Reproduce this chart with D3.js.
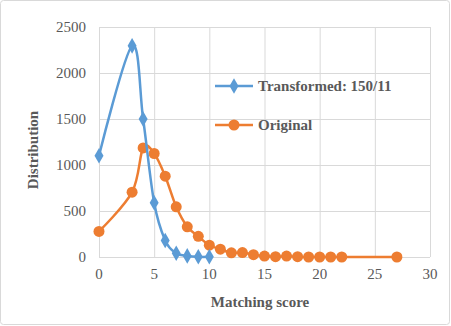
<!DOCTYPE html>
<html>
<head>
<meta charset="utf-8">
<script src="https://cdn.jsdelivr.net/npm/d3@7"></script>
<style>
  body { margin: 0; background: #fff; }
  text { font-family: "Liberation Serif", "Times New Roman", serif; }
</style>
</head>
<body>
<svg width="451" height="326"></svg>
<script>
    // values
    const transformedX = [0, 3, 4, 5, 6, 7, 8, 9, 10];
    const transformedY = [1100, 2295, 1500, 590, 180, 40, 12, 2, 2];

    const originalX = [0, 3, 4, 5, 6, 7, 8, 9, 10, 11, 12, 13, 14, 15, 16, 17, 18, 19, 20, 21, 22, 27];
    const originalY = [278, 705, 1185, 1125, 878, 545, 328, 225, 128, 85, 45, 48, 25, 10, 3, 10, 3, 0, 0, 0, 0, 0];

    const xTicks = [0, 5, 10, 15, 20, 25, 30];
    const yTicks = [0, 500, 1000, 1500, 2000, 2500];
    const seriesNames = ['Transformed: 150/11', 'Original'];
    const seriesColors = ['#5b9bd5', '#ed7d31'];

    const svg = d3.select('svg');

    svg.append('rect')
        .attr('x', 0.5).attr('y', 0.5)
        .attr('width', 449).attr('height', 324)
        .attr('rx', 3)
        .attr('fill', '#fff')
        .attr('stroke', '#d9d9d9');

    const x = d3.scaleLinear().domain([0, 30]).range([99, 430]);
    const y = d3.scaleLinear().domain([0, 2500]).range([257, 27]);

    // grid
    svg.append('g').selectAll('line').data(yTicks).join('line')
        .attr('x1', x(0)).attr('x2', x(30))
        .attr('y1', d => y(d) + 0.5).attr('y2', d => y(d) + 0.5)
        .attr('stroke', '#d9d9d9');
    svg.append('g').selectAll('line').data(xTicks).join('line')
        .attr('y1', y(0)).attr('y2', y(2500))
        .attr('x1', d => x(d) + 0.5).attr('x2', d => x(d) + 0.5)
        .attr('stroke', '#d9d9d9');

    // tick labels
    svg.append('g').selectAll('text').data(yTicks).join('text')
        .attr('x', 86)
        .attr('y', d => y(d))
        .attr('dy', '0.35em')
        .attr('text-anchor', 'end')
        .attr('font-size', 15)
        .attr('fill', '#595959')
        .text(d => d);
    svg.append('g').selectAll('text').data(xTicks).join('text')
        .attr('x', d => x(d))
        .attr('y', 279)
        .attr('text-anchor', 'middle')
        .attr('font-size', 15)
        .attr('fill', '#595959')
        .text(d => d);

    // axis titles
    svg.append('text')
        .attr('x', 260).attr('y', 307)
        .attr('text-anchor', 'middle')
        .attr('font-size', 15).attr('font-weight', 'bold')
        .attr('fill', '#595959')
        .text('Matching score');
    svg.append('text')
        .attr('transform', 'translate(38,150) rotate(-90)')
        .attr('text-anchor', 'middle')
        .attr('font-size', 15).attr('font-weight', 'bold')
        .attr('fill', '#595959')
        .text('Distribution');

    const line = d3.line()
        .x(d => x(d[0]))
        .y(d => y(d[1]))
        .curve(d3.curveCardinal.tension(0));

    const diamond = d3.symbol().type(d3.symbolDiamond).size(70);

    // Original series (drawn first, behind)
    const orig = originalX.map((d, i) => [d, originalY[i]]);
    svg.append('path')
        .datum(orig)
        .attr('d', line)
        .attr('fill', 'none')
        .attr('stroke', seriesColors[1])
        .attr('stroke-width', 2.5);
    svg.append('g').selectAll('circle').data(orig).join('circle')
        .attr('cx', d => x(d[0]))
        .attr('cy', d => y(d[1]))
        .attr('r', 5.5)
        .attr('fill', seriesColors[1]);

    const trans = transformedX.map((d, i) => [d, transformedY[i]]);
    svg.append('path')
        .datum(trans)
        .attr('d', line)
        .attr('fill', 'none')
        .attr('stroke', seriesColors[0])
        .attr('stroke-width', 2.5);
    svg.append('g').selectAll('path').data(trans).join('path')
        .attr('transform', d => `translate(${x(d[0])},${y(d[1])})`)
        .attr('d', diamond)
        .attr('fill', seriesColors[0]);

    // legend
    const legend = svg.append('g').selectAll('g').data(seriesNames).join('g')
        .attr('transform', (d, i) => `translate(215,${86 + i * 39})`);
    legend.append('line')
        .attr('x1', 0).attr('x2', 38)
        .attr('stroke', (d, i) => seriesColors[i])
        .attr('stroke-width', 2.5);
    legend.each(function (d, i) {
        const g = d3.select(this);
        if (i === 0) {
            g.append('path').attr('d', diamond).attr('transform', 'translate(19,0)')
                .attr('fill', seriesColors[0]);
        } else {
            g.append('circle').attr('cx', 19).attr('r', 5.5).attr('fill', seriesColors[1]);
        }
    });
    legend.append('text')
        .attr('x', 43)
        .attr('dy', '0.35em')
        .attr('font-size', 15).attr('font-weight', 'bold')
        .attr('fill', '#595959')
        .text(d => d);
</script>
</body>
</html>
